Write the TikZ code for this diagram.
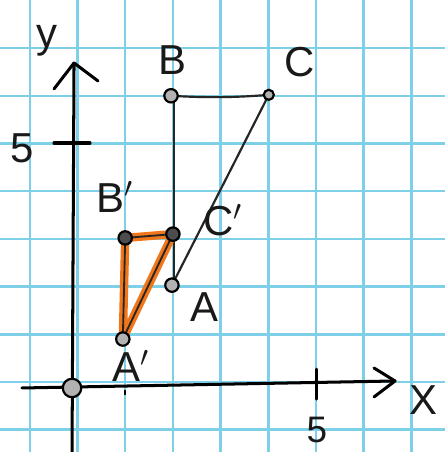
\documentclass[tikz,border=0pt]{standalone}
\usepackage{fontspec}
\setmainfont{Liberation Sans}
\begin{document}
\begin{tikzpicture}[x=1cm,y=1cm,
  gridline/.style={draw={rgb,255:red,125;green,208;blue,232},line width=1.5pt},
  axisline/.style={draw=black,line width=1.8pt,line cap=round,line join=round},
  segline/.style={draw=black!85,line width=1.3pt},
  orangeline/.style={draw={rgb,255:red,240;green,118;blue,25},line width=5pt,line cap=round,line join=round},
  openpt/.style={circle,draw=black,line width=1.3pt,fill=black!30,inner sep=0pt,minimum size=8pt},
  darkpt/.style={circle,draw=black,line width=1.3pt,fill=black!70,inner sep=0pt,minimum size=8pt},
  lbl/.style={font=\fontsize{25}{28}\selectfont,inner sep=0pt,text=black!90}
]
\useasboundingbox[fill=white] (-1.625,-1.468) rectangle (7.705,8.008);
% grid
\foreach \i in {-1,...,7} {\draw[gridline] (\i,-1.468) -- (\i,8.008);}
\foreach \j in {-1,...,7} {\draw[gridline] (-1.625,\j) -- (7.705,\j);}
% axes
\coordinate (xs) at (-1.164,-0.126);
\coordinate (xe) at (6.656,0.021);
\coordinate (ys) at (-0.115,-1.468);
\coordinate (ye) at (-0.073,6.688);
\draw[axisline] (xs) -- (xe);
\draw[axisline] (ys) -- (ye);
\draw[axisline] (6.216,0.293) -- (xe) -- (6.216,-0.314);
\draw[axisline] (-0.493,6.143) -- (ye) -- (0.430,6.31);
\draw[axisline] (5.02,0.27) -- (5.02,-0.36);
\draw[axisline] (-0.493,5.01) -- (0.262,5.01);
\draw[axisline,line width=1pt] (1.0,-0.18) -- (1.0,-0.26);
% labels on axes
\node[lbl,font=\fontsize{22}{26}\selectfont] (x5) at (5.02,-1.0) {5};
\node[lbl] (y5) at (-1.164,4.906) {5};
\node[lbl] (ylab) at (-0.639,7.15) {y};
\node[lbl] (xlab) at (7.243,-0.377) {X};
% points
\coordinate (pB) at (1.96,6.0);
\coordinate (pC) at (4.01,6.02);
\coordinate (pA) at (1.98,2.03);
\coordinate (pAp) at (0.95,0.90);
\coordinate (pBp) at (1.0,3.02);
\coordinate (pCp) at (2.0,3.1);
% triangle ABC
\draw[segline] (pB) .. controls (2.8,5.95) and (3.4,5.97) .. (pC);
\draw[segline] (2.03,5.95) -- (2.03,2.1);
\draw[segline] (pC) -- (pA);
% orange triangle
\draw[orangeline] (pAp) -- (pBp) -- (pCp) -- cycle;
\draw[segline,line width=1.1pt] (pAp) -- (pBp) -- (pCp) -- cycle;
% point markers
\node[openpt,minimum size=11pt] (O) at (-0.115,-0.126) {};
\node[openpt] (A) at (pA) {};
\node[openpt] (B) at (pB) {};
\node[openpt,minimum size=6pt] (C) at (pC) {};
\node[openpt] (Ap) at (pAp) {};
\node[darkpt] (Bp) at (pBp) {};
\node[darkpt] (Cp) at (pCp) {};
% point labels
\node[lbl] (lB) at (2.0,6.75) {B};
\node[lbl] (lC) at (4.66,6.71) {C};
\node[lbl] (lBp) at (0.78,3.88) {B$'$};
\node[lbl] (lCp) at (3.05,3.40) {C$'$};
\node[lbl] (lA) at (2.67,1.57) {A};
\node[lbl] (lAp) at (1.12,0.34) {A$'$};
\end{tikzpicture}
\end{document}
